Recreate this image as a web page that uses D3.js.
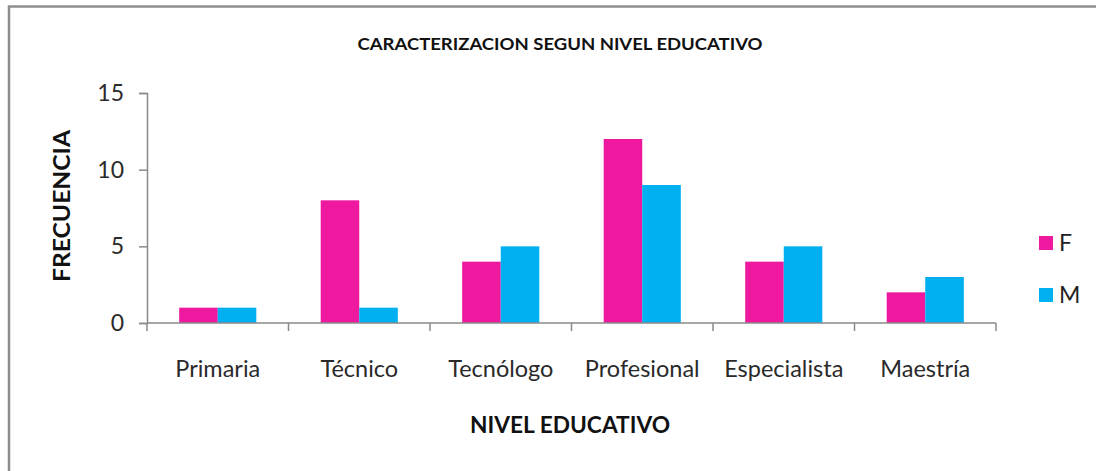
<!DOCTYPE html>
<html>
<head>
<meta charset="utf-8">
<script src="https://cdn.jsdelivr.net/npm/d3@7"></script>
<style>
  body { margin: 0; background: #fff; }
  text { font-family: Lato, "Open Sans", sans-serif; fill: #222; }
</style>
</head>
<body>
<svg id="chart"></svg>
<script>
// data
const niveles = ['Primaria', 'Técnico', 'Tecnólogo', 'Profesional', 'Especialista', 'Maestría'];
const series = ['F', 'M'];
const valoresF = [1, 8, 4, 12, 4, 2];
const valoresM = [1, 1, 5, 9, 5, 3];
const yTicks = [0, 5, 10, 15];
const colores = ['#ee199f', '#00b0f0'];

const w = 1096, h = 471;
const plotL = 147, plotR = 996, plotT = 93, plotB = 323;

const svg = d3.select('#chart').attr('width', w).attr('height', h);

// frame (top and left edges visible)
svg.append('path')
  .attr('d', `M9,${h} L9,6.5 L${w},6.5`)
  .attr('fill', 'none')
  .attr('stroke', '#8e8e8e')
  .attr('stroke-width', 2.5);

const x0 = d3.scaleBand().domain(niveles).range([plotL, plotR]).paddingInner(0.455).paddingOuter(0.2275);
const x1 = d3.scaleBand().domain(series).range([0, x0.bandwidth()]);
const y = d3.scaleLinear().domain([0, 15]).range([plotB, plotT]);

const rows = niveles.map((n, i) => ({ nivel: n, F: valoresF[i], M: valoresM[i] }));

// bars
const groups = svg.selectAll('g.grp')
  .data(rows)
  .enter().append('g')
  .attr('class', 'grp')
  .attr('transform', d => 'translate(' + x0(d.nivel) + ',0)');

groups.selectAll('rect')
  .data(d => series.map((s, j) => ({ s: s, v: d[s], j: j })))
  .enter().append('rect')
  .attr('x', d => x1(d.s))
  .attr('y', d => y(d.v))
  .attr('width', x1.bandwidth())
  .attr('height', d => plotB - y(d.v))
  .attr('fill', d => colores[d.j]);

// y axis
const yAxis = d3.axisLeft(y).tickValues(yTicks).tickSize(8).tickPadding(15);
const gy = svg.append('g').attr('transform', 'translate(' + plotL + ',0)').call(yAxis);
gy.select('.domain').attr('stroke', '#8a8a8a').attr('stroke-width', 1.5);
gy.selectAll('.tick line').attr('stroke', '#8a8a8a').attr('stroke-width', 1.5);
gy.selectAll('.tick text').style('font-size', '23px').style('fill', '#2a2a2a')
  .style('font-family', 'Lato, sans-serif');

// x axis: ticks between categories
const xAxisLine = d3.scaleLinear().domain([0, niveles.length]).range([plotL, plotR]);
svg.append('line')
  .attr('x1', plotL).attr('x2', plotR)
  .attr('y1', plotB).attr('y2', plotB)
  .attr('stroke', '#8a8a8a').attr('stroke-width', 1.5);
svg.selectAll('line.xt')
  .data(d3.range(niveles.length + 1))
  .enter().append('line')
  .attr('class', 'xt')
  .attr('x1', d => xAxisLine(d)).attr('x2', d => xAxisLine(d))
  .attr('y1', plotB).attr('y2', plotB + 8)
  .attr('stroke', '#8a8a8a').attr('stroke-width', 1.5);

svg.selectAll('text.cat')
  .data(niveles)
  .enter().append('text')
  .attr('class', 'cat')
  .attr('x', d => x0(d) + x0.bandwidth() / 2)
  .attr('y', 377)
  .attr('text-anchor', 'middle')
  .style('font-size', '23.5px')
  .style('fill', '#2a2a2a')
  .text(d => d);

// titles
svg.append('text')
  .attr('x', 560).attr('y', 50)
  .attr('text-anchor', 'middle')
  .attr('textLength', 405).attr('lengthAdjust', 'spacingAndGlyphs')
  .style('font-size', '17px').style('font-weight', 'bold').style('fill', '#111')
  .text('CARACTERIZACION SEGUN NIVEL EDUCATIVO');

svg.append('text')
  .attr('x', 570).attr('y', 433)
  .attr('text-anchor', 'middle')
  .attr('textLength', 200).attr('lengthAdjust', 'spacingAndGlyphs')
  .style('font-size', '22px').style('font-weight', 'bold').style('fill', '#111')
  .text('NIVEL EDUCATIVO');

svg.append('text')
  .attr('transform', 'translate(70,206) rotate(-90)')
  .attr('text-anchor', 'middle')
  .attr('textLength', 152).attr('lengthAdjust', 'spacingAndGlyphs')
  .style('font-size', '22px').style('font-weight', 'bold').style('fill', '#111')
  .text('FRECUENCIA');

// legend
const legend = svg.append('g').attr('transform', 'translate(1039,236)');
series.forEach((s, i) => {
  legend.append('rect')
    .attr('x', 0).attr('y', i * 52)
    .attr('width', 14).attr('height', 14)
    .attr('fill', colores[i]);
  legend.append('text')
    .attr('x', 20).attr('y', i * 52 + 15)
    .style('font-size', '23px')
    .text(s);
});
</script>
</body>
</html>
